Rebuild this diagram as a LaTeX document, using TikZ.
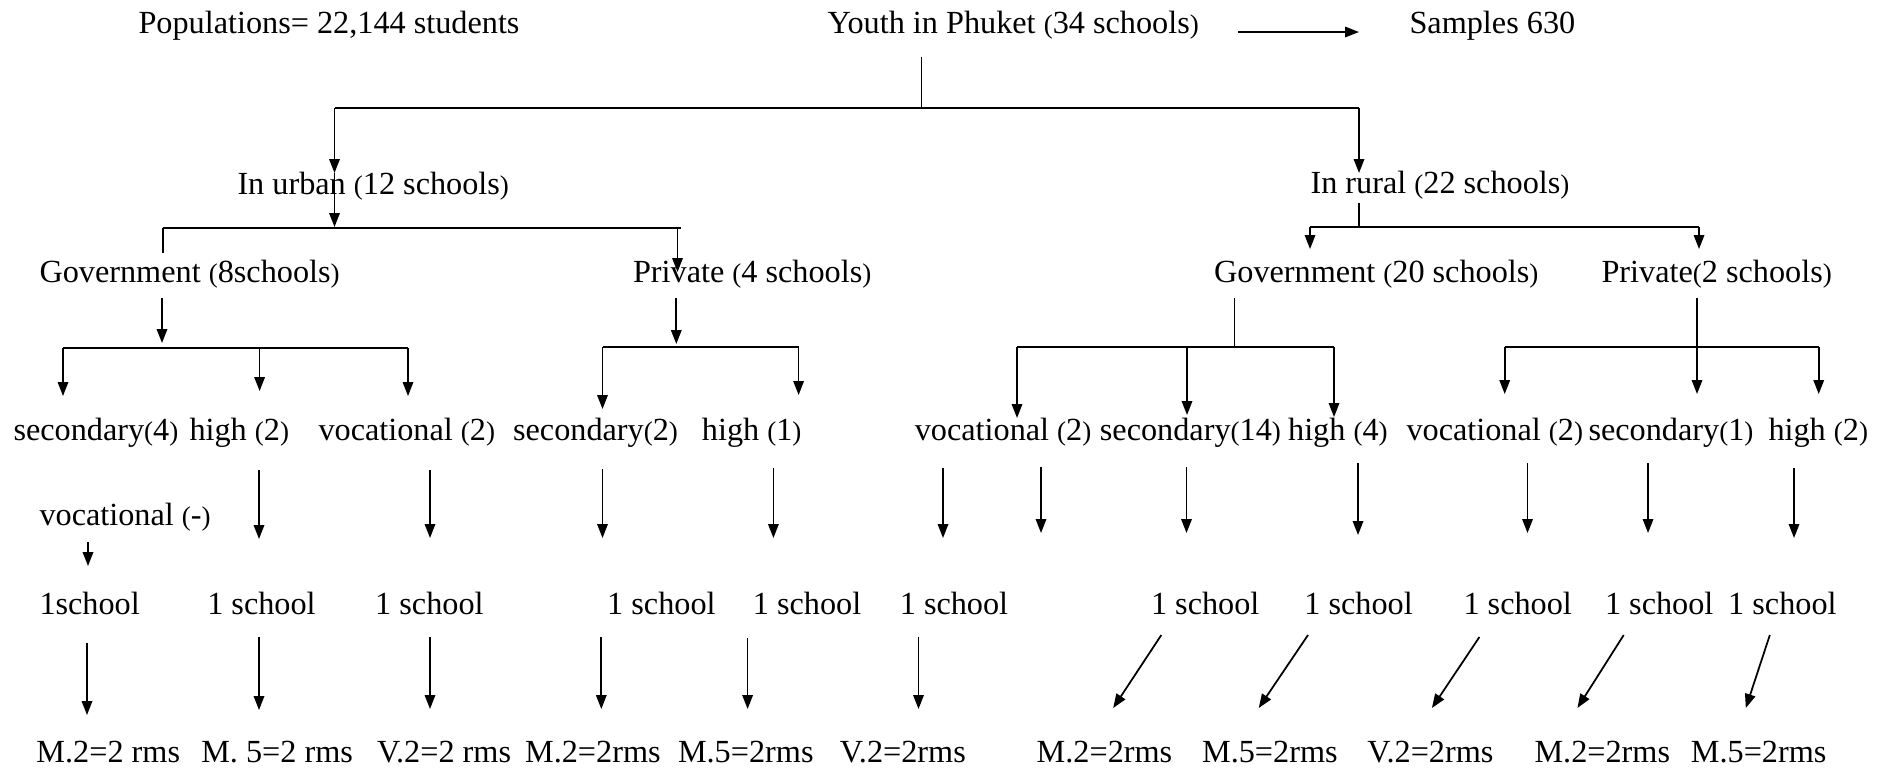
\documentclass[tikz,border=0pt]{standalone}
\usepackage{fontspec}
\setmainfont{Liberation Serif}
\usetikzlibrary{arrows.meta}
\newcommand\lp{{\fontsize{10.8pt}{12pt}\selectfont(}}
\newcommand\rp{{\fontsize{10.8pt}{12pt}\selectfont)}}
\begin{document}
\begin{tikzpicture}[x=0.4pt,y=-0.4pt,
  lbl/.style={anchor=base west,inner sep=0pt,font=\fontsize{12.9pt}{14pt}\selectfont},
  conn/.style={line width=0.7pt},
  bar/.style={line width=0.95pt},
  arr/.style={line width=0.7pt,-{Triangle[length=5.6pt,width=4.2pt]}},
]
\useasboundingbox (0,0) rectangle (1883,769);

% ---------- row 0 ----------
\node[lbl] (pop) at (138,33) {Populations= 22,144 students};
\node[lbl] (youth) at (827,33) {Youth in Phuket \lp34 schools\rp};
\node[lbl] (samples) at (1409,33) {Samples 630};
\coordinate (ya) at (1238,32); \coordinate (yb) at (1359,32);
\draw[arr] (ya) -- (yb);

\coordinate (r0) at (921.5,57); \coordinate (r1) at (921.5,108);
\coordinate (hl) at (334.5,108); \coordinate (hr) at (1359,108);
\draw[conn] (r0) -- (r1);
\draw[bar] (hl) -- (hr);

% ---------- row 1 ----------
\node[lbl] (urban) at (237,194) {In urban \lp12 schools\rp};
\node[lbl] (rural) at (1310,193) {In rural \lp22 schools\rp};
\coordinate (u1) at (334.5,173); \coordinate (u2) at (334.5,227);
\draw[arr] (hl) -- (u1);
\draw[arr] (u1) -- (u2);
\coordinate (q1) at (1359,173);
\draw[arr] (hr) -- (q1);
\coordinate (q2) at (1359,203); \coordinate (q3) at (1359,227);
\draw[conn] (q2) -- (q3);

% urban bar
\coordinate (ubl) at (163,228); \coordinate (ubr) at (677.5,228);
\coordinate (ubt) at (163,253); \coordinate (ubp) at (677.5,272);
\draw[bar] (ubl) -- (680.5,228);
\draw[conn] (ubl) -- (ubt);
\draw[arr] (ubr) -- (ubp);
% rural bar
\coordinate (rbl) at (1310,227); \coordinate (rbr) at (1699,227);
\coordinate (rbl2) at (1310,249); \coordinate (rbr2) at (1699,249);
\draw[bar] (rbl) -- (rbr);
\draw[arr] (rbl) -- (rbl2);
\draw[arr] (rbr) -- (rbr2);

% ---------- row 2 ----------
\node[lbl] (gov8) at (39,282) {Government \lp8schools\rp};
\node[lbl] (priv4) at (632.5,282) {Private \lp4 schools\rp};
\node[lbl] (gov20) at (1213.6,282) {Government \lp20 schools\rp};
\node[lbl] (priv2) at (1601,282) {Private\lp2 schools\rp};

% Gov8 branch
\coordinate (g8a) at (162,298); \coordinate (g8b) at (162,343);
\draw[arr] (g8a) -- (g8b);
\coordinate (g8l) at (63,348); \coordinate (g8m) at (259.6,348); \coordinate (g8r) at (408,348);
\draw[bar] (g8l) -- (g8r);
\coordinate (g8l2) at (63,396); \coordinate (g8m2) at (259.6,391); \coordinate (g8r2) at (408,396);
\draw[arr] (g8l) -- (g8l2);
\draw[arr] (g8m) -- (g8m2);
\draw[arr] (g8r) -- (g8r2);

% Priv4 branch
\coordinate (p4a) at (676.3,298); \coordinate (p4b) at (676.3,344);
\draw[arr] (p4a) -- (p4b);
\coordinate (p4l) at (602.5,347); \coordinate (p4r) at (798.6,347);
\draw[bar] (p4l) -- (p4r);
\coordinate (p4l2) at (602.5,409); \coordinate (p4r2) at (798.6,395);
\draw[arr] (p4l) -- (p4l2);
\draw[arr] (p4r) -- (p4r2);

% Gov20 branch
\coordinate (g20a) at (1234.6,298); \coordinate (g20b) at (1234.6,347);
\draw[conn] (g20a) -- (g20b);
\coordinate (g20l) at (1017,347); \coordinate (g20m) at (1187,347); \coordinate (g20r) at (1334,347);
\draw[bar] (g20l) -- (g20r);
\coordinate (g20l2) at (1017,418); \coordinate (g20m2) at (1187,415); \coordinate (g20r2) at (1334,417);
\draw[arr] (g20l) -- (g20l2);
\draw[arr] (g20m) -- (g20m2);
\draw[arr] (g20r) -- (g20r2);

% Priv2 branch
\coordinate (p2a) at (1697,298); \coordinate (p2b) at (1697,394);
\draw[arr] (p2a) -- (p2b);
\coordinate (p2l) at (1504.7,347); \coordinate (p2r) at (1818.7,347);
\draw[bar] (p2l) -- (p2r);
\coordinate (p2l2) at (1504.7,394); \coordinate (p2r2) at (1818.7,394);
\draw[arr] (p2l) -- (p2l2);
\draw[arr] (p2r) -- (p2r2);

% ---------- row 3 ----------
\node[lbl] (t1) at (13,440) {secondary\lp4\rp};
\node[lbl] (t2) at (189,440) {high \lp2\rp};
\node[lbl] (t3) at (318,440) {vocational \lp2\rp};
\node[lbl] (t4) at (512.6,440) {secondary\lp2\rp};
\node[lbl] (t5) at (701.4,440) {high \lp1\rp};
\node[lbl] (t6) at (914.3,440) {vocational \lp2\rp};
\node[lbl] (t7) at (1099.4,440) {secondary\lp14\rp};
\node[lbl] (t8) at (1287.6,440) {high \lp4\rp};
\node[lbl] (t9) at (1406,440) {vocational \lp2\rp};
\node[lbl] (t10) at (1588,440) {secondary\lp1\rp};
\node[lbl] (t11) at (1768,440) {high \lp2\rp};

\node[lbl] (voc) at (39,525) {vocational \lp-\rp};
\coordinate (vca) at (88,542); \coordinate (vcb) at (88,566);
\draw[arr] (vca) -- (vcb);

\foreach \n/\x/\ya/\yb in {1/259/470/539, 2/430/470/538, 3/602.5/469/538, 4/773.4/468/538,
  5/943/468/538, 6/1041/467/533, 7/1186.5/467/533, 8/1358/463/535, 9/1527.5/463/533,
  10/1648/463/533, 11/1794/468/538}{
  \coordinate (ma\n) at (\x,\ya); \coordinate (mb\n) at (\x,\yb);
  \draw[arr] (ma\n) -- (mb\n);
}

% ---------- row 4 ----------
\node[lbl] (s1) at (39,614) {1school};
\node[lbl] (s2) at (206.8,614) {1 school};
\node[lbl] (s3) at (374.7,614) {1 school};
\node[lbl] (s4) at (606.7,614) {1 school};
\node[lbl] (s5) at (752.4,614) {1 school};
\node[lbl] (s6) at (899.3,614) {1 school};
\node[lbl] (s7) at (1150.5,614) {1 school};
\node[lbl] (s8) at (1303.8,614) {1 school};
\node[lbl] (s9) at (1463,614) {1 school};
\node[lbl] (s10) at (1604.5,614) {1 school};
\node[lbl] (s11) at (1727.7,614) {1 school};

\foreach \n/\xa/\ya/\xb/\yb in {1/87/643/87/715, 2/259/637/259/710, 3/430/637/430/709,
  4/601.3/637/601.3/709, 5/747.6/638/747.6/709, 6/918.5/637/918.5/709,
  7/1161.3/635/1113.2/708, 8/1308/635/1258.7/708, 9/1479.4/637/1431.9/708,
  10/1623.7/635/1577.4/708, 11/1769.8/635/1745.8/708}{
  \coordinate (na\n) at (\xa,\ya); \coordinate (nb\n) at (\xb,\yb);
  \draw[arr] (na\n) -- (nb\n);
}

% ---------- row 5 ----------
\node[lbl] (m1) at (36,762) {M.2=2 rms};
\node[lbl] (m2) at (200.8,762) {M. 5=2 rms};
\node[lbl] (m3) at (376.5,762) {V.2=2 rms};
\node[lbl] (m4) at (524.6,762) {M.2=2rms};
\node[lbl] (m5) at (677.5,762) {M.5=2rms};
\node[lbl] (m6) at (839.3,762) {V.2=2rms};
\node[lbl] (m7) at (1036.2,762) {M.2=2rms};
\node[lbl] (m8) at (1201.6,762) {M.5=2rms};
\node[lbl] (m9) at (1366.9,762) {V.2=2rms};
\node[lbl] (m10) at (1534,762) {M.2=2rms};
\node[lbl] (m11) at (1690.4,762) {M.5=2rms};
\end{tikzpicture}
\end{document}
